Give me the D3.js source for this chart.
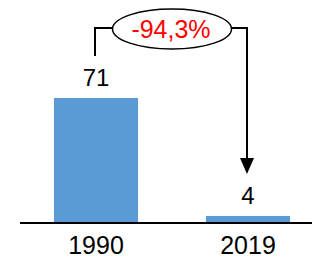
<!DOCTYPE html>
<html>
<head>
<meta charset="utf-8">
<script src="https://cdn.jsdelivr.net/npm/d3@7"></script>
<style>
  html, body { margin: 0; padding: 0; background: #fff; }
  text { font-family: "Liberation Sans", Arial, sans-serif; }
</style>
</head>
<body>
<div id="chart"></div>
<script>
const years = ["1990", "2019"];
const values = [71, 4];
const changeLabel = "-94,3%";

const w = 312;
const h = 258;
const baseY = 223;

const svg = d3.select("#chart").append("svg")
  .attr("width", w)
  .attr("height", h);

const xScale = d3.scaleBand()
  .domain(years)
  .range([20, 324])
  .paddingInner(0.447)
  .paddingOuter(0.2235);

const yScale = d3.scaleLinear()
  .domain([0, 71])
  .range([baseY, 98]);

const data = years.map((y, i) => ({ year: y, value: values[i] }));

svg.selectAll("rect.bar")
  .data(data)
  .enter()
  .append("rect")
  .attr("class", "bar")
  .attr("x", d => xScale(d.year))
  .attr("y", d => yScale(d.value))
  .attr("width", xScale.bandwidth())
  .attr("height", d => baseY - yScale(d.value))
  .attr("fill", "#5b9bd5");

// axis line + year labels
const xAxis = d3.axisBottom(xScale).tickSize(0).tickPadding(13);
const gx = svg.append("g")
  .attr("transform", "translate(0," + baseY + ")")
  .call(xAxis);
gx.select(".domain").remove();
gx.append("line")
  .attr("x1", 20).attr("x2", w)
  .attr("y1", 0).attr("y2", 0)
  .attr("stroke", "#000").attr("stroke-width", 2);
gx.selectAll(".tick text")
  .attr("font-size", 25)
  .attr("font-family", "Liberation Sans, Arial, sans-serif")
  .attr("fill", "#000");

// value labels
svg.selectAll("text.val")
  .data(data)
  .enter()
  .append("text")
  .attr("class", "val")
  .attr("x", d => xScale(d.year) + xScale.bandwidth() / 2)
  .attr("y", d => yScale(d.value) - 12)
  .attr("text-anchor", "middle")
  .attr("font-size", 24)
  .attr("fill", "#000")
  .text(d => d.value);

// bracket with ellipse and arrow
const x1 = xScale("1990") + xScale.bandwidth() / 2 - 1;
const x2 = xScale("2019") + xScale.bandwidth() / 2 - 1;
const topY = 28;
const cx = 172, rx = 59.5, ry = 20;

svg.append("path")
  .attr("d", `M${x1},56 V${topY} H${cx - rx}`)
  .attr("fill", "none").attr("stroke", "#000").attr("stroke-width", 2);
svg.append("path")
  .attr("d", `M${cx + rx},${topY} H${x2} V160`)
  .attr("fill", "none").attr("stroke", "#000").attr("stroke-width", 2);
svg.append("path")
  .attr("d", `M${x2 - 7},158 L${x2 + 7},158 L${x2},174 Z`)
  .attr("fill", "#000");

svg.append("ellipse")
  .attr("cx", cx).attr("cy", topY + 1)
  .attr("rx", rx).attr("ry", ry)
  .attr("fill", "#fff").attr("stroke", "#000").attr("stroke-width", 1.5);

svg.append("text")
  .attr("x", cx - 1).attr("y", topY + 10)
  .attr("text-anchor", "middle")
  .attr("font-size", 25)
  .attr("fill", "#ff0000")
  .text(changeLabel);
</script>
</body>
</html>
